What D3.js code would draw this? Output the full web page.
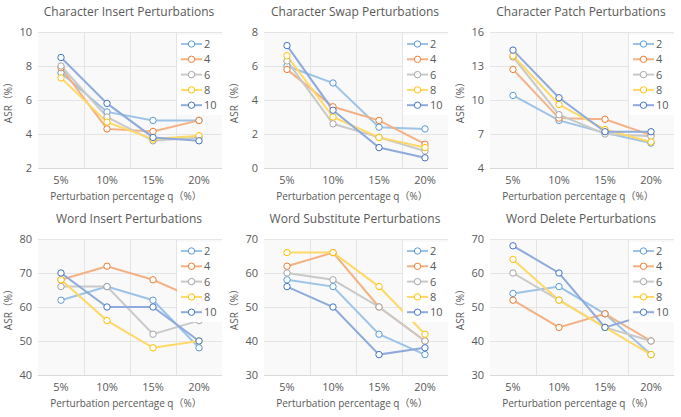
<!DOCTYPE html>
<html>
<head>
<meta charset="utf-8">
<script src="https://cdn.jsdelivr.net/npm/d3@7"></script>
<style>
  body { margin: 0; background: #fff; }
  svg text { font-family: "Open Sans", "Noto Sans", "Noto Sans CJK SC", sans-serif; fill: #595959; }
</style>
</head>
<body>
<div id="chart"></div>
<script>
// categories and series
const categories = ['5%', '10%', '15%', '20%'];
const seriesNames = ['2', '4', '6', '8', '10'];
const lineColors = ['#9dc3e6', '#f4b183', '#c9c9c9', '#ffd966', '#8faadc'];
const markerColors = ['#5b9bd5', '#ed7d31', '#a5a5a5', '#ffc000', '#4472c4'];

const charInsert = [
  [7.6, 5.3, 4.8, 4.8],
  [7.9, 4.3, 4.15, 4.8],
  [8.0, 5.0, 3.6, 3.8],
  [7.3, 4.7, 3.7, 3.9],
  [8.5, 5.8, 3.8, 3.6]
];
const charSwap = [
  [6.0, 5.0, 2.4, 2.3],
  [5.8, 3.6, 2.8, 1.4],
  [6.3, 2.6, 1.8, 1.0],
  [6.6, 3.0, 1.8, 1.2],
  [7.2, 3.4, 1.2, 0.6]
];
const charPatch = [
  [10.4, 8.2, 7.1, 6.2],
  [12.7, 8.4, 8.3, 6.9],
  [13.8, 8.7, 7.0, 6.8],
  [13.9, 9.6, 7.4, 6.3],
  [14.4, 10.2, 7.2, 7.2]
];
const wordInsert = [
  [62, 66, 62, 48],
  [68, 72, 68, 62],
  [66, 66, 52, 56],
  [68, 56, 48, 50],
  [70, 60, 60, 50]
];
const wordSubstitute = [
  [58, 56, 42, 36],
  [62, 66, 50, 40],
  [60, 58, 50, 40],
  [66, 66, 56, 42],
  [56, 50, 36, 38]
];
const wordDelete = [
  [54, 56, 48, 36],
  [52, 44, 48, 40],
  [60, 52, 44, 40],
  [64, 52, 44, 36],
  [68, 60, 44, 48]
];

const panels = [
  { title: 'Character Insert Perturbations', data: charInsert, ticks: [2, 4, 6, 8, 10] },
  { title: 'Character Swap Perturbations', data: charSwap, ticks: [0, 2, 4, 6, 8] },
  { title: 'Character Patch Perturbations', data: charPatch, ticks: [4, 7, 10, 13, 16] },
  { title: 'Word Insert Perturbations', data: wordInsert, ticks: [40, 50, 60, 70, 80] },
  { title: 'Word Substitute Perturbations', data: wordSubstitute, ticks: [30, 40, 50, 60, 70] },
  { title: 'Word Delete Perturbations', data: wordDelete, ticks: [30, 40, 50, 60, 70] }
];

const width = 681, height = 417;
const colLeft = [38, 264, 490];
const plotW = 184;
const rowTop = [32, 239];
const plotH = 136;

const svg = d3.select('#chart').append('svg')
  .attr('width', width)
  .attr('height', height);

panels.forEach((p, i) => {
  const left = colLeft[i % 3];
  const top = rowTop[Math.floor(i / 3)];
  drawPanel(p, left, top);
});

function drawPanel(p, left, top) {
  const g = svg.append('g').attr('transform', `translate(${left}, ${top})`);
  const x = d3.scaleBand().domain(categories).range([0, plotW]);
  const y = d3.scaleLinear().domain([p.ticks[0], p.ticks[p.ticks.length - 1]]).range([plotH, 0]);

  g.append('rect')
    .attr('width', plotW)
    .attr('height', plotH)
    .attr('fill', '#f9f9f9');

  // horizontal grid
  g.selectAll('.hgrid')
    .data(p.ticks.slice(1))
    .enter().append('line')
    .attr('x1', 0).attr('x2', plotW)
    .attr('y1', d => Math.round(y(d)) + 0.5)
    .attr('y2', d => Math.round(y(d)) + 0.5)
    .attr('stroke', '#e4e4e4');

  // vertical grid between categories
  g.selectAll('.vgrid')
    .data(categories.slice(1))
    .enter().append('line')
    .attr('x1', d => Math.round(x(d)) + 0.5)
    .attr('x2', d => Math.round(x(d)) + 0.5)
    .attr('y1', 0).attr('y2', plotH)
    .attr('stroke', '#e4e4e4');

  g.append('line')
    .attr('x1', 0).attr('x2', plotW)
    .attr('y1', plotH + 0.5).attr('y2', plotH + 0.5)
    .attr('stroke', '#d9d9d9');

  // y tick labels
  g.selectAll('.ytick')
    .data(p.ticks)
    .enter().append('text')
    .attr('x', -6)
    .attr('y', d => y(d) + 4)
    .attr('text-anchor', 'end')
    .attr('font-size', '11px')
    .text(d => d);

  // x tick labels
  g.selectAll('.xtick')
    .data(categories)
    .enter().append('text')
    .attr('x', d => x(d) + x.bandwidth() / 2)
    .attr('y', plotH + 16)
    .attr('text-anchor', 'middle')
    .attr('font-size', '11px')
    .text(d => d);

  g.append('text')
    .attr('x', plotW / 2 - 4)
    .attr('y', plotH + 32)
    .attr('text-anchor', 'middle')
    .attr('font-size', '10px')
    .text('Perturbation percentage q（%）');

  g.append('text')
    .attr('transform', `translate(${-26}, ${plotH / 2}) rotate(-90)`)
    .attr('text-anchor', 'middle')
    .attr('font-size', '10px')
    .text('ASR（%）');

  g.append('text')
    .attr('x', plotW / 2 - 1)
    .attr('y', -16)
    .attr('text-anchor', 'middle')
    .attr('font-size', '12px')
    .text(p.title);

  const line = d3.line()
    .x((d, j) => x(categories[j]) + x.bandwidth() / 2)
    .y(d => y(d));

  p.data.forEach((values, s) => {
    g.append('path')
      .datum(values)
      .attr('d', line)
      .attr('fill', 'none')
      .attr('stroke', lineColors[s])
      .attr('stroke-width', 2);
  });

  p.data.forEach((values, s) => {
    g.selectAll(`.pt${s}`)
      .data(values)
      .enter().append('circle')
      .attr('cx', (d, j) => x(categories[j]) + x.bandwidth() / 2)
      .attr('cy', d => y(d))
      .attr('r', 3.2)
      .attr('fill', '#fff')
      .attr('stroke', markerColors[s])
      .attr('stroke-width', 1);
  });

  // legend
  const lg = g.append('g').attr('transform', `translate(${plotW - 45}, 3)`);
  lg.append('rect')
    .attr('width', 45)
    .attr('height', 80)
    .attr('fill', '#fff')
    .attr('opacity', 0.9);
  seriesNames.forEach((name, s) => {
    const ly = 9 + s * 15.3;
    lg.append('line')
      .attr('x1', 4).attr('x2', 25)
      .attr('y1', ly).attr('y2', ly)
      .attr('stroke', lineColors[s])
      .attr('stroke-width', 2);
    lg.append('circle')
      .attr('cx', 14.5).attr('cy', ly)
      .attr('r', 3.2)
      .attr('fill', '#fff')
      .attr('stroke', markerColors[s]);
    lg.append('text')
      .attr('x', 27)
      .attr('y', ly + 4)
      .attr('font-size', '11px')
      .text(name);
  });
}
</script>
</body>
</html>
